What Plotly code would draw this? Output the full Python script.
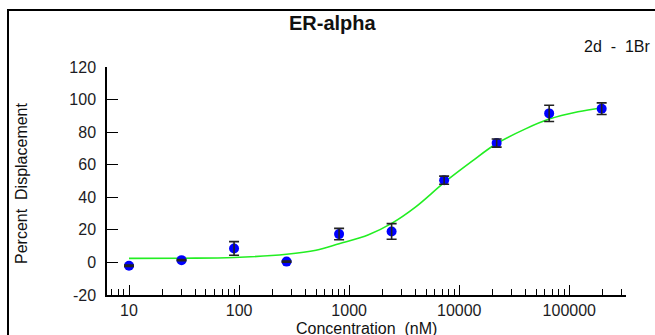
import plotly.graph_objects as go

# Measured data (3-fold dilution series)
conc = [10, 30, 90, 270, 810, 2430, 7290, 21870, 65610, 196830]
pct_disp = [-2.0, 1.4, 8.6, 0.5, 17.4, 19.0, 50.5, 73.3, 91.5, 94.4]
err = [0.4, 0.4, 4.2, 0.4, 3.5, 4.8, 2.5, 2.5, 5.0, 3.6]

# Fitted curve
curve_conc = [10, 30, 90, 270, 500, 810, 1500, 2430, 4000, 7290, 13000, 21870, 40000, 65610, 120000, 196830]
curve_pct = [2.5, 2.6, 3.0, 5.0, 7.5, 11.5, 17.0, 24.0, 34.0, 49.0, 62.0, 73.0, 82.0, 88.0, 92.5, 95.0]

x_tickvals = [10, 100, 1000, 10000, 100000]
x_ticktext = ["10", "100", "1000", "10000", "100000"]
y_tickvals = [-20, 0, 20, 40, 60, 80, 100, 120]
y_ticktext = ["-20", "0", "20", "40", "60", "80", "100", "120"]

W, H = 655, 335
L, R, T, B = 107, 29, 67, 40
pw, ph = W - L - R, H - T - B


def px(xp):
    return (xp - L) / pw


def py(yp):
    return (H - B - yp) / ph


FONT = "Liberation Sans, Arial, sans-serif"
TXT = "#1c1c24"

fig = go.Figure()
fig.add_trace(go.Scatter(
    x=curve_conc, y=curve_pct, mode="lines", line=dict(color="#22ee22", width=1.6, shape="spline"),
    hoverinfo="skip", showlegend=False))
fig.add_trace(go.Scatter(
    x=conc, y=pct_disp, mode="markers",
    marker=dict(color="#0000ff", size=10, line=dict(width=0)), showlegend=False))
fig.add_trace(go.Scatter(
    x=conc, y=pct_disp, mode="markers",
    marker=dict(color="rgba(0,0,0,0)", size=1),
    error_y=dict(type="data", array=err, visible=True, color="#222222", thickness=1.6, width=5),
    showlegend=False))

fig.update_layout(
    width=W, height=H, margin=dict(l=L, r=R, t=T, b=B, pad=0),
    paper_bgcolor="white", plot_bgcolor="white",
    font=dict(family=FONT, size=16, color=TXT),
    xaxis=dict(type="log", range=[0.8, 5.515], showline=True, linecolor="black", linewidth=1.5,
               showgrid=False, zeroline=False, tickmode="array", tickvals=x_tickvals, ticktext=x_ticktext,
               ticks="inside", ticklen=10, tickwidth=1.3, tickcolor="black",
               ticklabelstandoff=0,
               minor=dict(ticks="inside", ticklen=6, tickwidth=1.3, tickcolor="black", dtick="D1", showgrid=False),
               tickfont=dict(family=FONT, size=16, color=TXT)),
    yaxis=dict(range=[-20, 120], showline=True, linecolor="black", linewidth=1.5, showgrid=False,
               zeroline=False, tickmode="array", tickvals=y_tickvals, ticktext=y_ticktext,
               ticks="inside", ticklen=11, tickwidth=1.3, tickcolor="black",
               ticklabelstandoff=6,
               tickfont=dict(family=FONT, size=16, color=TXT)),
    shapes=[dict(type="rect", xref="paper", yref="paper", x0=px(8), x1=px(760), y0=py(10), y1=py(420),
                 line=dict(color="black", width=2), fillcolor="rgba(0,0,0,0)")],
    annotations=[
        dict(text="<b>ER-alpha</b>", xref="paper", yref="paper", x=px(333), y=py(23), showarrow=False,
             xanchor="center", yanchor="middle", font=dict(family=FONT, size=20, color="#111")),
        dict(text="2d  -  1Br", xref="paper", yref="paper", x=px(582), y=py(47), showarrow=False,
             xanchor="left", yanchor="middle", font=dict(family=FONT, size=16, color="#111")),
        dict(text="Concentration  (nM)", xref="paper", yref="paper", x=px(366), y=py(328), showarrow=False,
             xanchor="center", yanchor="middle", font=dict(family=FONT, size=16, color="#111")),
        dict(text="Percent  Displacement", xref="paper", yref="paper", x=px(21), y=py(183), showarrow=False,
             textangle=-90, xanchor="center", yanchor="middle", font=dict(family=FONT, size=16, color="#111")),
    ],
)

fig.write_html("out.html", config={"displayModeBar": False},
               post_script="document.body.style.margin='0';document.body.style.overflow='hidden';")
